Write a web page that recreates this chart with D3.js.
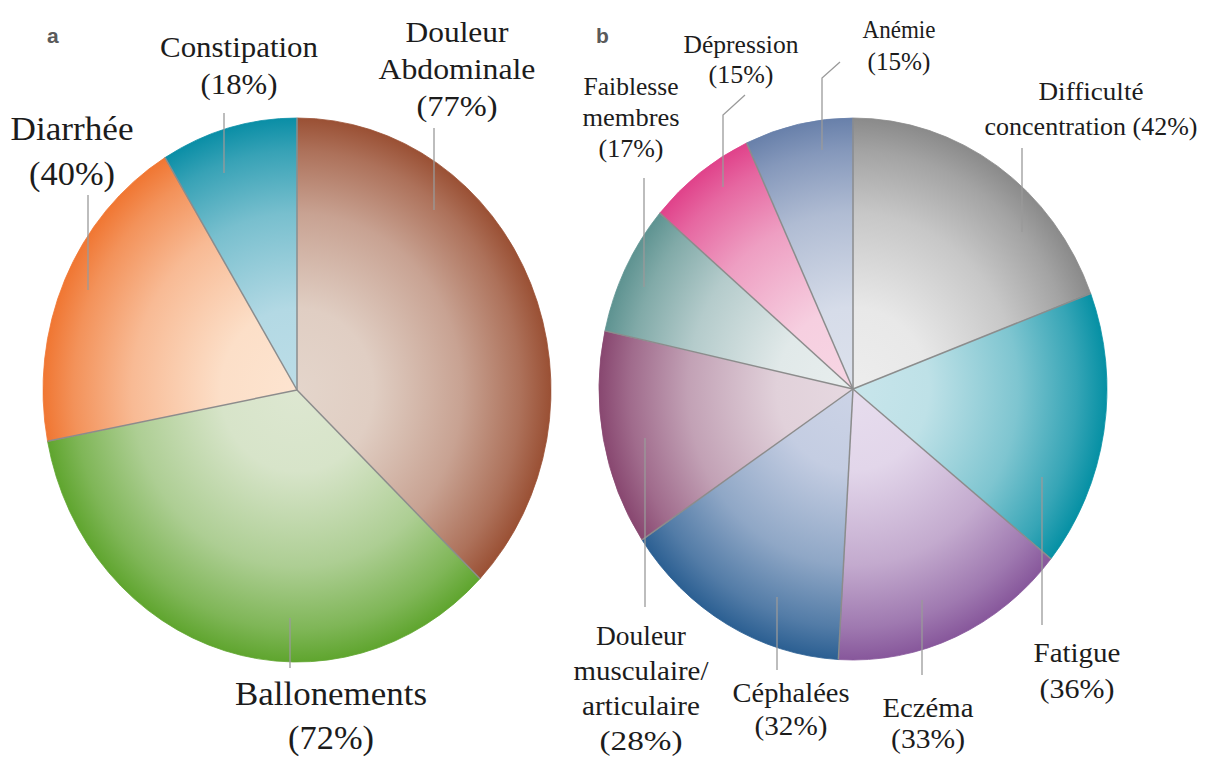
<!DOCTYPE html>
<html><head><meta charset="utf-8">
<script src="https://cdn.jsdelivr.net/npm/d3@7"></script>
<style>html,body{margin:0;padding:0;background:#fff;} svg{display:block;}</style>
</head><body>
<svg id="chart" width="1208" height="758" font-family="Liberation Serif"></svg>
<script>
// ---------- DATA ----------
const panelLetters = ["a", "b"];
// "\n" marks the line breaks used in the labels
const pieACategories = ["Douleur\nAbdominale", "Ballonements", "Diarrhée", "Constipation"];
const pieAValues = [77, 72, 40, 18];
const pieBCategories = ["Difficulté\nconcentration", "Fatigue", "Eczéma", "Céphalées",
  "Douleur\nmusculaire/\narticulaire", "Faiblesse\nmembres", "Dépression", "Anémie"];
const pieBValues = [42, 36, 33, 32, 28, 17, 15, 15];

// ---------- STYLE / LAYOUT ----------
const pieAColors = [
  {light: "#e4d5cb", dark: "#9a5034"},
  {light: "#dde7d1", dark: "#5fa52e"},
  {light: "#fde4d0", dark: "#f07632"},
  {light: "#bcdde7", dark: "#0a8ea6"}
];
const pieBColors = [
  {light: "#ededed", dark: "#8a8a8a"},
  {light: "#c8e5eb", dark: "#0590a4"},
  {light: "#e7ddee", dark: "#87579b"},
  {light: "#ccd3e6", dark: "#2b5f92"},
  {light: "#e6d8e0", dark: "#884770"},
  {light: "#e8eeee", dark: "#5e9391"},
  {light: "#f7d6e4", dark: "#e0428a"},
  {light: "#dce1ec", dark: "#6880aa"}
];
const geomA = {cx: 297, cy: 390, rx: 254, ry: 272};
const geomB = {cx: 853, cy: 389, rx: 254, ry: 271};

// label layout: centre x, first baseline y, line height, font size, target line widths, leader polyline, inline percent
const layoutA = [
  {x: 457, y: 42, lh: 37, fs: 30, w: [103, 157, 81], leader: [[434,128],[434,210]]},
  {x: 331, y: 705, lh: 44, fs: 33, w: [192, 86], leader: [[290,618],[290,668]]},
  {x: 72, y: 140, lh: 45, fs: 33, w: [123, 86], leader: [[88,195],[88,290]]},
  {x: 239, y: 57, lh: 37, fs: 30, w: [158, 77], leader: [[224,113],[224,173]]}
];
const layoutB = [
  {x: 1091, y: 100, lh: 35, fs: 26, w: [105, 213], inline: true, leader: [[1022,148],[1022,232]]},
  {x: 1077, y: 662, lh: 36, fs: 27, w: [87, 75], leader: [[1042,477],[1042,625]]},
  {x: 928, y: 717, lh: 31, fs: 27, w: [91, 74], leader: [[922,600],[922,675]]},
  {x: 791, y: 702, lh: 33, fs: 27, w: [117, 73], leader: [[777,597],[777,670]]},
  {x: 641, y: 645, lh: 35, fs: 27, w: [90, 135, 118, 83], leader: [[645,438],[645,607]]},
  {x: 631, y: 95, lh: 31, fs: 25, w: [95, 97, 65], leader: [[644,178],[644,287]]},
  {x: 741, y: 53, lh: 30, fs: 25, w: [115, 65], leader: [[745,95],[723,115],[723,187]]},
  {x: 899, y: 38, lh: 32, fs: 25, w: [73, 63], leader: [[840,62],[822,78],[822,150]]}
];
const letterPos = [{x: 47, y: 43}, {x: 596, y: 43}];

// ---------- DRAW ----------
const svg = d3.select("#chart");
svg.append("rect").attr("width", 1208).attr("height", 758).attr("fill", "#fff");
const defs = svg.append("defs");
const R = 100;

function drawPie(id, cats, vals, colors, geom, layout) {
  const pie = d3.pie().sort(null).value(d => d.value);
  const arcs = pie(cats.map((c, i) => ({cat: c, value: vals[i], i})));
  const arc = d3.arc().innerRadius(0).outerRadius(R);

  colors.forEach((c, i) => {
    const grad = defs.append("radialGradient").attr("id", `${id}-g${i}`)
      .attr("gradientUnits", "userSpaceOnUse").attr("cx", 0).attr("cy", 0).attr("r", R);
    const mix = d3.interpolateRgb(c.light, c.dark);
    [[0, 0], [0.3, 0.05], [0.65, 0.38], [0.88, 0.75], [1, 1]].forEach(([o, t]) =>
      grad.append("stop").attr("offset", o).attr("stop-color", mix(t)));
  });

  const g = svg.append("g")
    .attr("transform", `translate(${geom.cx},${geom.cy}) scale(${geom.rx / R},${geom.ry / R})`);
  g.selectAll("path.slice").data(arcs).join("path").attr("class", "slice")
    .attr("d", arc).attr("fill", d => `url(#${id}-g${d.data.i})`)
    .attr("stroke", d => `url(#${id}-g${d.data.i})`).attr("stroke-width", 0.3);
  g.selectAll("line.sep").data(arcs).join("line").attr("class", "sep")
    .attr("x1", 0).attr("y1", 0)
    .attr("x2", d => R * Math.sin(d.startAngle)).attr("y2", d => -R * Math.cos(d.startAngle))
    .attr("stroke", "#8c8c8c").attr("stroke-width", 1.5).attr("vector-effect", "non-scaling-stroke");

  // leaders
  const line = d3.line();
  svg.append("g").selectAll("path").data(layout).join("path")
    .attr("d", d => line(d.leader)).attr("fill", "none")
    .attr("stroke", "#9a9a9a").attr("stroke-width", 1.3);

  // labels
  arcs.forEach((a, i) => {
    const L = layout[i];
    const pct = `(${a.data.value}%)`;
    let lines = a.data.cat.split("\n");
    if (L.inline) lines[lines.length - 1] += " " + pct; else lines.push(pct);
    lines.forEach((t, j) => {
      const tg = svg.append("g");
      const txt = tg.append("text").attr("x", 0).attr("y", 0)
        .attr("text-anchor", "middle")
        .style("font-family", '"Liberation Serif"')
        .style("font-size", L.fs + "px").attr("fill", "#1c1c1c")
        .text(t);
      let sx = 1;
      try {
        const len = txt.node().getComputedTextLength();
        if (len > 0) sx = Math.max(0.8, Math.min(1.35, L.w[j] / len));
      } catch (e) {}
      tg.attr("transform", `translate(${L.x},${L.y + j * L.lh}) scale(${sx},1)`);
    });
  });
}

drawPie("pa", pieACategories, pieAValues, pieAColors, geomA, layoutA);
drawPie("pb", pieBCategories, pieBValues, pieBColors, geomB, layoutB);

svg.selectAll("text.panel").data(panelLetters).join("text").attr("class", "panel")
  .attr("x", (d, i) => letterPos[i].x).attr("y", (d, i) => letterPos[i].y)
  .style("font-family", '"Liberation Sans"').style("font-weight", "bold")
  .style("font-size", "21px").attr("fill", "#5a5a5a").text(d => d);
</script>
</body></html>
